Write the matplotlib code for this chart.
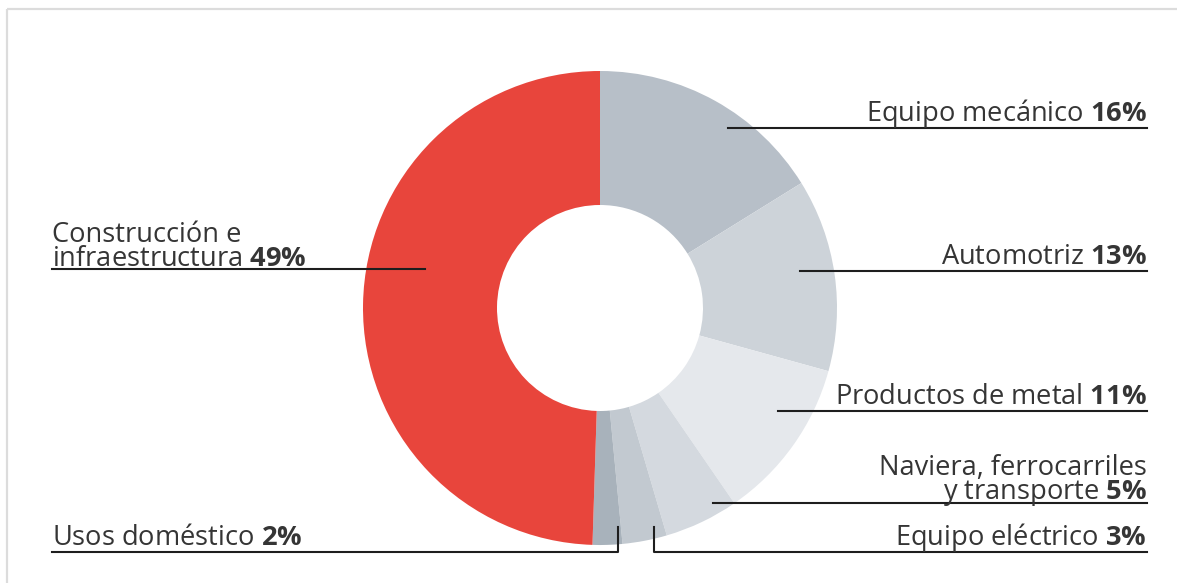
import matplotlib
matplotlib.use("Agg")
import matplotlib.pyplot as plt

plt.rcParams['font.family'] = ['Open Sans', 'DejaVu Sans']
plt.rcParams['mathtext.fontset'] = 'custom'
plt.rcParams['mathtext.rm'] = 'Open Sans'
plt.rcParams['mathtext.bf'] = 'Open Sans:bold'

# data
sectors = ["Equipo mecánico", "Automotriz", "Productos de metal",
           "Naviera, ferrocarriles\ny transporte", "Equipo eléctrico",
           "Usos doméstico", "Construcción e\ninfraestructura"]
shares = [16, 13, 11, 5, 3, 2, 49]
colors = ['#b7bfc8', '#cdd3d9', '#e5e8ec', '#d4d9df', '#c2c9d0', '#a8b2bb', '#e8453c']

W, H = 1177, 583
fig = plt.figure(figsize=(W / 100, H / 100), dpi=100)
ax = fig.add_axes([0, 0, 1, 1])

def Y(p):
    return H - p

ax.pie(shares, colors=colors, startangle=90, counterclock=False,
       radius=237, center=(600, Y(308)),
       wedgeprops=dict(width=134, edgecolor='none', linewidth=0))
ax.set_xlim(0, W)
ax.set_ylim(0, H)
ax.set_aspect('equal')
ax.axis('off')

# card border (top and left only)
ax.plot([7, W], [Y(9), Y(9)], color='#dcdcdc', lw=1.6, solid_capstyle='butt')
ax.plot([7, 7], [Y(9), 0], color='#dcdcdc', lw=1.6, solid_capstyle='butt')

FS = 19.6
TXT = '#353535'
LINE = '#1e1e1e'


def label(x, base, i, ha):
    txt = sectors[i] + " $\\mathbf{" + str(shares[i]) + "\\%}$"
    two = "\n" in sectors[i]
    yy = Y(base + 4) if two else Y(base)
    ax.text(x, yy, txt, ha=ha, va='baseline', multialignment=ha,
            fontsize=FS, color=TXT, linespacing=0.8)


# right side labels
label(1147, 121, 0, 'right')
ax.plot([728, 1147], [Y(128), Y(128)], color=LINE, lw=1.5)
label(1147, 264, 1, 'right')
ax.plot([800, 1147], [Y(271), Y(271)], color=LINE, lw=1.5)
label(1147, 404, 2, 'right')
ax.plot([778, 1147], [Y(411), Y(411)], color=LINE, lw=1.5)
label(1147, 495, 3, 'right')
ax.plot([713, 1147], [Y(503), Y(503)], color=LINE, lw=1.5)
label(1147, 545, 4, 'right')
ax.plot([654, 654, 1147], [Y(527), Y(552), Y(552)], color=LINE, lw=1.5)

# left side labels
label(52, 545, 5, 'left')
ax.plot([52, 618, 618], [Y(552), Y(552), Y(527)], color=LINE, lw=1.5)
label(52, 262, 6, 'left')
ax.plot([52, 425], [Y(269), Y(269)], color=LINE, lw=1.5)

fig.savefig("out.png", dpi=100)
